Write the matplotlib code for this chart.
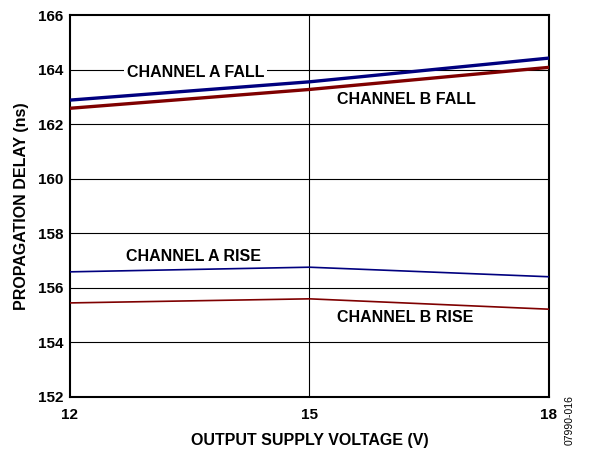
import matplotlib.pyplot as plt

plt.rcParams['font.family'] = ['Liberation Sans', 'DejaVu Sans']
plt.rcParams['font.weight'] = 'bold'

# supply voltage (V)
voltage = [12, 15, 18]
# propagation delay (ns)
a_fall = [162.88, 163.55, 164.42]
b_fall = [162.58, 163.27, 164.08]
a_rise = [156.58, 156.75, 156.40]
b_rise = [155.44, 155.59, 155.21]

blue = '#00007f'
red = '#7f0000'

fig = plt.figure(figsize=(5.9, 4.49), dpi=100)
ax = fig.add_axes([0.1186, 0.1165, 0.8114, 0.85])

ax.plot(voltage, a_fall, color=blue, lw=2.4, zorder=3)
ax.plot(voltage, b_fall, color=red, lw=2.4, zorder=3)
ax.plot(voltage, a_rise, color=blue, lw=1.2, zorder=3)
ax.plot(voltage, b_rise, color=red, lw=1.2, zorder=3)

ax.set_xlim(12, 18)
ax.set_ylim(152, 166)
ax.set_xticks([12, 15, 18])
ax.set_yticks(range(152, 167, 2))
for y in range(154, 166, 2):
    ax.axhline(y, color='black', lw=0.8, zorder=1)
ax.axvline(15, color='black', lw=0.8, zorder=1)

for s in ax.spines.values():
    s.set_linewidth(1.5)
ax.tick_params(length=0, labelsize=11, pad=5)
ax.tick_params(axis='x', pad=8)
for lab in ax.get_xticklabels() + ax.get_yticklabels():
    lab.set_fontweight('bold')

ax.set_xlabel('OUTPUT SUPPLY VOLTAGE (V)', fontsize=11.5, fontweight='bold', labelpad=8)
ax.set_ylabel('PROPAGATION DELAY (ns)', fontsize=11.5, fontweight='bold', labelpad=6)

tkw = dict(fontsize=11.5, fontweight='bold', ha='center', va='center', zorder=4)
ax.text(13.57, 163.88, 'CHANNEL A FALL',
        bbox=dict(facecolor='white', edgecolor='none', pad=2), **tkw)
ax.text(16.21, 162.92, 'CHANNEL B FALL', **tkw)
ax.text(13.55, 157.16, 'CHANNEL A RISE', **tkw)
ax.text(16.2, 154.92, 'CHANNEL B RISE', **tkw)

fig.text(0.966, 0.01, '07990-016', rotation=90, fontsize=7.5, fontweight='normal',
         ha='center', va='bottom')

fig.savefig('out.png', dpi=100)
